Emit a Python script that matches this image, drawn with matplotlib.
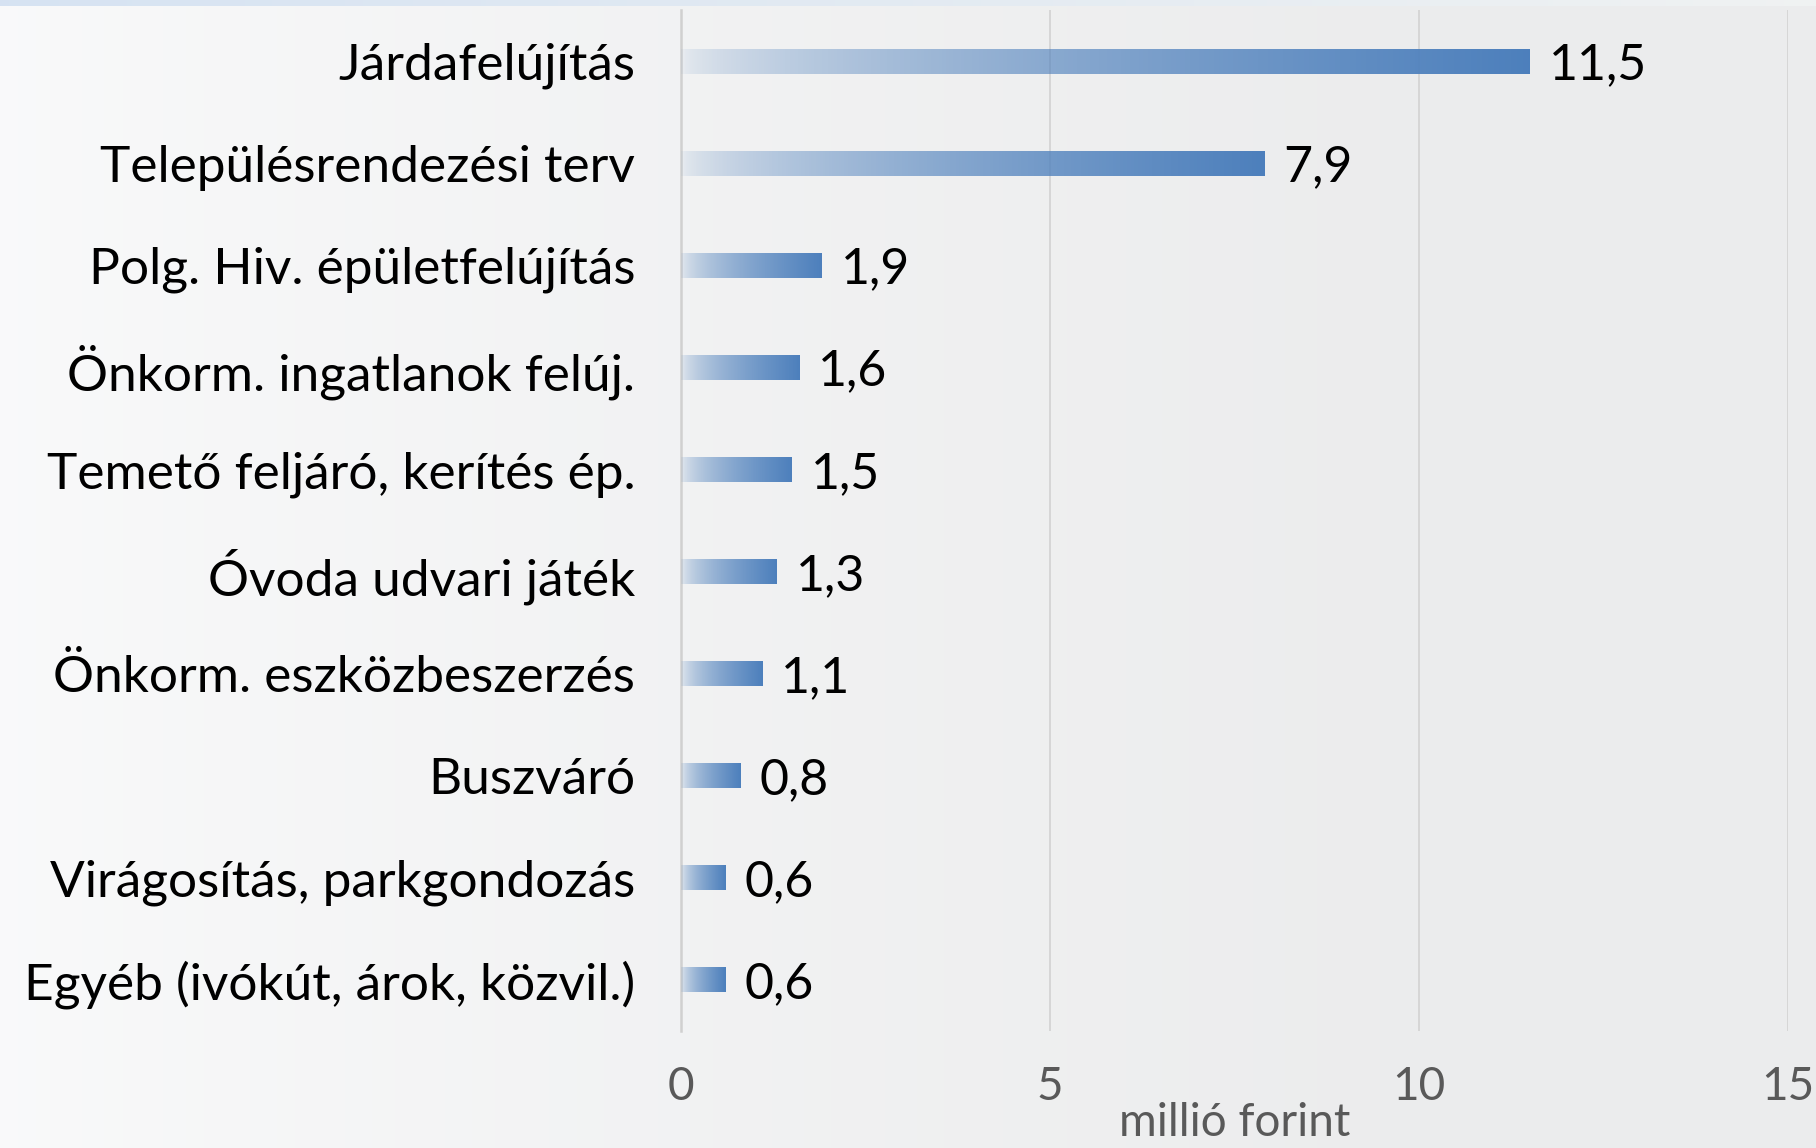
import matplotlib.pyplot as plt
import numpy as np

# adatok (millió forint)
kategoriak = ["Járdafelújítás", "Településrendezési terv", "Polg. Hiv. épületfelújítás",
              "Önkorm. ingatlanok felúj.", "Temető feljáró, kerítés ép.", "Óvoda udvari játék",
              "Önkorm. eszközbeszerzés", "Buszváró", "Virágosítás, parkgondozás",
              "Egyéb (ivókút, árok, közvil.)"]
ertekek = [11.5, 7.9, 1.9, 1.6, 1.5, 1.3, 1.1, 0.8, 0.6, 0.6]
cimkek = ["11,5", "7,9", "1,9", "1,6", "1,5", "1,3", "1,1", "0,8", "0,6", "0,6"]
x_tickek = [0, 5, 10, 15]

plt.rcParams['font.family'] = ['Lato', 'DejaVu Sans']

fig = plt.figure(figsize=(18.16, 11.48), dpi=100)

# hatter: vilagos szurke atmenet, fent halvany kek csik
bg = fig.add_axes([0, 0, 1, 1], zorder=-10)
bg.set_axis_off()
h, w = 200, 400
xx = np.linspace(0, 1, w)[None, :]
yy = np.linspace(0, 1, h)[:, None]
base = 0.978 - 0.053 * np.clip(xx * 1.3, 0, 1) ** 0.8 + 0 * yy
img = np.dstack([base, base + 0.002, base + 0.005])
top = int(h * 0.009)
img[:top, :, 0] = 0.84 + 0.10 * xx[0]
img[:top, :, 1] = 0.89 + 0.06 * xx[0]
img[:top, :, 2] = 0.95 + 0.0 * xx[0]
bg.imshow(np.clip(img, 0, 1), aspect='auto', extent=[0, 1, 0, 1])
bg.set_xlim(0, 1)
bg.set_ylim(0, 1)

ax = fig.add_axes([0.375, 0.102, 0.6096, 0.889])
ax.patch.set_alpha(0)

y = np.arange(len(kategoriak))
bars = ax.barh(y, ertekek, height=0.245, color='none', edgecolor='none', zorder=3)

# szinatmenet a rudakon: balra atlatszo, jobbra kek
n = 256
t = np.linspace(0, 1, n)
grad = np.zeros((1, n, 4))
grad[..., 0] = 0.30
grad[..., 1] = 0.50
grad[..., 2] = 0.74
grad[..., 3] = 0.05 + 0.95 * t ** 0.6
for b in bars:
    x0, y0 = b.get_x(), b.get_y()
    im = ax.imshow(grad, aspect='auto', extent=[x0, x0 + b.get_width(), y0, y0 + b.get_height()],
                   zorder=3, interpolation='bilinear')
    im.set_clip_path(b)

for yi, v, c in zip(y, ertekek, cimkek):
    ax.text(v + 0.26, yi + 0.04, c, va='center', ha='left', fontsize=36, color='black')

ax.set_xlim(0, 15)
ax.set_ylim(len(kategoriak) - 0.5, -0.5)
ax.set_xticks(x_tickek)
ax.set_xticklabels([str(v) for v in x_tickek])
ax.set_yticks(y)
ax.set_yticklabels(kategoriak)
ax.grid(axis='x', color='#d6d6d6', linewidth=1.4, zorder=0)
ax.set_axisbelow(True)
for s in ['top', 'right', 'bottom']:
    ax.spines[s].set_visible(False)
ax.spines['left'].set_color('#d0d0d0')
ax.spines['left'].set_linewidth(1.8)
ax.tick_params(axis='y', length=0, pad=33, labelsize=37, labelcolor='black')
ax.tick_params(axis='x', length=0, pad=25, labelsize=33, labelcolor='#595959')
ax.set_xlabel("millió forint", fontsize=33, color='#595959', labelpad=-4)

fig.savefig("out.png", dpi=100)
